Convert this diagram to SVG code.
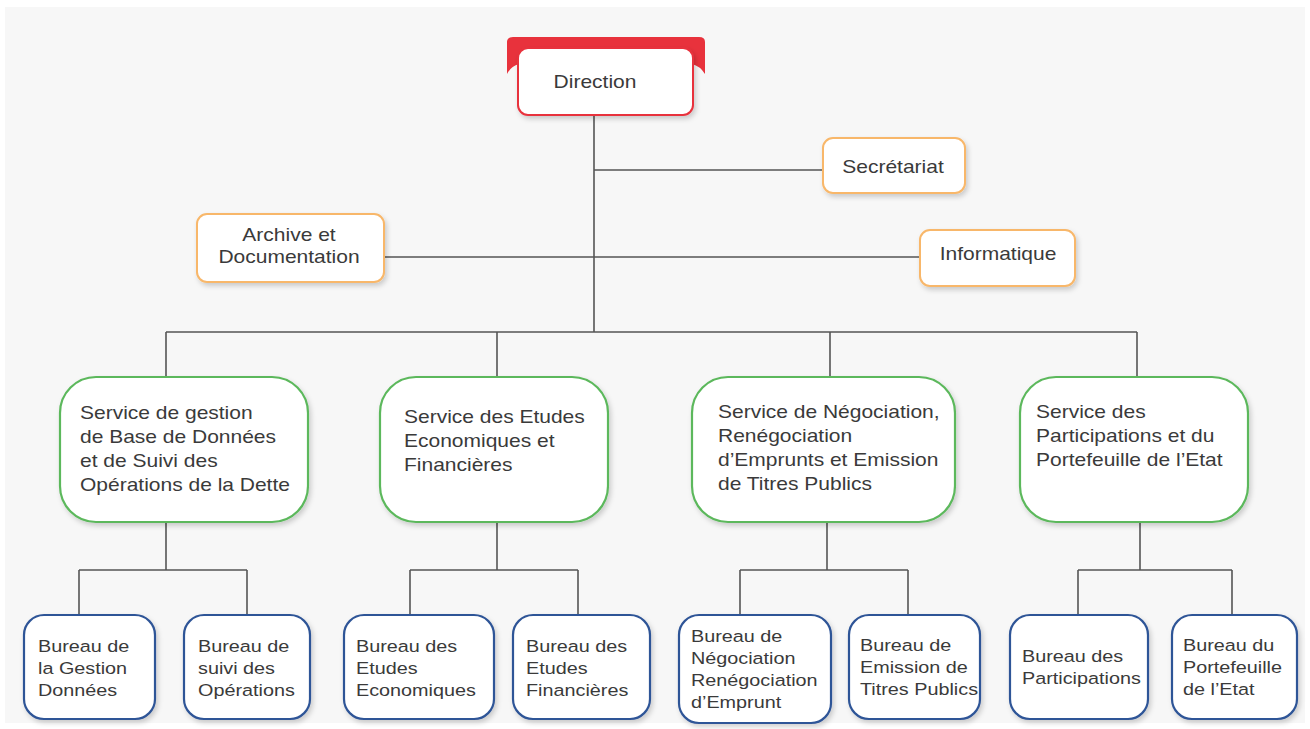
<svg xmlns="http://www.w3.org/2000/svg" width="1310" height="729" viewBox="0 0 1310 729">
<defs>
<filter id="sh" x="-20%" y="-20%" width="140%" height="140%">
<feDropShadow dx="2" dy="3" stdDeviation="2.5" flood-color="#000" flood-opacity="0.18"/>
</filter>
<style>
text{font-family:"Liberation Sans",Arial,sans-serif;fill:#3a3a3a;}
.t17{font-size:17.5px;}
.t16{font-size:16.5px;}
.mid{text-anchor:middle;}
.conn{stroke:#555;stroke-width:1.6;fill:none;}
.org{fill:#fff;stroke:#f8b76a;stroke-width:2;filter:url(#sh);}
.svc{fill:#fff;stroke:#5cb85c;stroke-width:2.2;filter:url(#sh);}
.bur{fill:#fff;stroke:#2f5597;stroke-width:2.2;filter:url(#sh);}
</style>
</defs>
<rect x="0" y="0" width="1310" height="729" fill="#fff"/>
<rect x="5" y="7" width="1300" height="716" fill="#f7f7f7"/>

<g id="connectors">
<path class="conn" d="M594 115V332M594 170H823M384 257H920M166 332H1137M166 332V377M497 332V377M830 332V377M1137 332V377"/>
<path class="conn" d="M166 521V570M79 570H247M79 570V615M247 570V615"/>
<path class="conn" d="M497 521V570M410 570H578M410 570V615M578 570V615"/>
<path class="conn" d="M827 521V570M740 570H908M740 570V615M908 570V615"/>
<path class="conn" d="M1140 521V570M1078 570H1232M1078 570V615M1232 570V615"/>
</g>

<g id="direction">
<path d="M507 74V42Q507 37 513 37H699Q705 37 705 42V74Q700 66 692 64H519Q511 66 507 74Z" fill="#e8323c"/>
<rect x="518" y="48" width="175" height="67" rx="10" fill="#fff" stroke="#e8323c" stroke-width="2" filter="url(#sh)"/>
<g transform="translate(595,0) scale(1.2,1)"><text class="t17 mid" x="0" y="88">Direction</text></g>
</g>

<g id="secretariat">
<rect class="org" x="823" y="138" width="142" height="55" rx="10"/>
<g transform="translate(893,0) scale(1.2,1)"><text class="t17 mid" x="0" y="173">Secrétariat</text></g>
</g>

<g id="archive">
<rect class="org" x="197" y="214" width="187" height="68" rx="10"/>
<g transform="translate(289,0) scale(1.2,1)">
<text class="t17 mid" x="0" y="241">Archive et</text>
<text class="t17 mid" x="0" y="263">Documentation</text>
</g>
</g>

<g id="informatique">
<rect class="org" x="920" y="230" width="155" height="56" rx="10"/>
<g transform="translate(998,0) scale(1.2,1)"><text class="t17 mid" x="0" y="260">Informatique</text></g>
</g>

<g id="svc1">
<rect class="svc" x="60" y="377" width="248" height="145" rx="36"/>
<g transform="translate(80,0) scale(1.2,1)">
<text class="t17" x="0" y="419">Service de gestion</text>
<text class="t17" x="0" y="443">de Base de Données</text>
<text class="t17" x="0" y="467">et de Suivi des</text>
<text class="t17" x="0" y="491">Opérations de la Dette</text>
</g>
</g>

<g id="svc2">
<rect class="svc" x="380" y="377" width="228" height="145" rx="36"/>
<g transform="translate(404,0) scale(1.2,1)">
<text class="t17" x="0" y="423">Service des Etudes</text>
<text class="t17" x="0" y="447">Economiques et</text>
<text class="t17" x="0" y="471">Financières</text>
</g>
</g>

<g id="svc3">
<rect class="svc" x="692" y="377" width="263" height="145" rx="36"/>
<g transform="translate(718,0) scale(1.2,1)">
<text class="t17" x="0" y="418">Service de Négociation,</text>
<text class="t17" x="0" y="442">Renégociation</text>
<text class="t17" x="0" y="466">d’Emprunts et Emission</text>
<text class="t17" x="0" y="490">de Titres Publics</text>
</g>
</g>

<g id="svc4">
<rect class="svc" x="1020" y="377" width="228" height="145" rx="36"/>
<g transform="translate(1036,0) scale(1.2,1)">
<text class="t17" x="0" y="418">Service des</text>
<text class="t17" x="0" y="442">Participations et du</text>
<text class="t17" x="0" y="466">Portefeuille de l’Etat</text>
</g>
</g>

<g id="bur1">
<rect class="bur" x="24" y="615" width="131" height="104" rx="20"/>
<g transform="translate(38,0) scale(1.2,1)">
<text class="t16" x="0" y="652">Bureau de</text>
<text class="t16" x="0" y="674">la Gestion</text>
<text class="t16" x="0" y="696">Données</text>
</g>
</g>
<g id="bur2">
<rect class="bur" x="184" y="615" width="126" height="104" rx="20"/>
<g transform="translate(198,0) scale(1.2,1)">
<text class="t16" x="0" y="652">Bureau de</text>
<text class="t16" x="0" y="674">suivi des</text>
<text class="t16" x="0" y="696">Opérations</text>
</g>
</g>
<g id="bur3">
<rect class="bur" x="344" y="615" width="150" height="104" rx="20"/>
<g transform="translate(356,0) scale(1.2,1)">
<text class="t16" x="0" y="652">Bureau des</text>
<text class="t16" x="0" y="674">Etudes</text>
<text class="t16" x="0" y="696">Economiques</text>
</g>
</g>
<g id="bur4">
<rect class="bur" x="513" y="615" width="137" height="104" rx="20"/>
<g transform="translate(526,0) scale(1.2,1)">
<text class="t16" x="0" y="652">Bureau des</text>
<text class="t16" x="0" y="674">Etudes</text>
<text class="t16" x="0" y="696">Financières</text>
</g>
</g>
<g id="bur5">
<rect class="bur" x="679" y="615" width="152" height="108" rx="20"/>
<g transform="translate(691,0) scale(1.2,1)">
<text class="t16" x="0" y="642">Bureau de</text>
<text class="t16" x="0" y="664">Négociation</text>
<text class="t16" x="0" y="686">Renégociation</text>
<text class="t16" x="0" y="708">d’Emprunt</text>
</g>
</g>
<g id="bur6">
<rect class="bur" x="849" y="615" width="131" height="104" rx="20"/>
<g transform="translate(860,0) scale(1.2,1)">
<text class="t16" x="0" y="651">Bureau de</text>
<text class="t16" x="0" y="673">Emission de</text>
<text class="t16" x="0" y="695">Titres Publics</text>
</g>
</g>
<g id="bur7">
<rect class="bur" x="1010" y="615" width="138" height="104" rx="20"/>
<g transform="translate(1022,0) scale(1.2,1)">
<text class="t16" x="0" y="662">Bureau des</text>
<text class="t16" x="0" y="684">Participations</text>
</g>
</g>
<g id="bur8">
<rect class="bur" x="1172" y="615" width="125" height="104" rx="20"/>
<g transform="translate(1183,0) scale(1.2,1)">
<text class="t16" x="0" y="651">Bureau du</text>
<text class="t16" x="0" y="673">Portefeuille</text>
<text class="t16" x="0" y="695">de l’Etat</text>
</g>
</g>
</svg>
